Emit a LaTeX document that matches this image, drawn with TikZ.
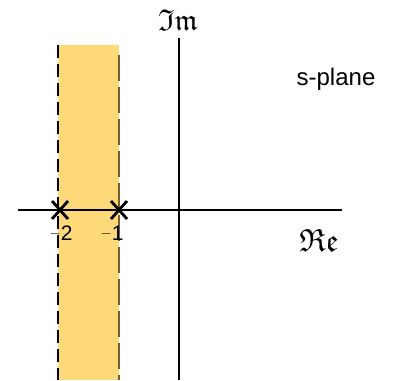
\documentclass[tikz,border=0pt]{standalone}
\usepackage{amssymb}
\usepackage{fontspec}
\setmainfont{Liberation Sans}
\usetikzlibrary{calc}
\definecolor{band}{RGB}{253,217,122}
\definecolor{bandedge}{RGB}{120,95,40}
\begin{document}
\begin{tikzpicture}[x=1pt,y=-1pt,
  axis/.style={line width=1.5pt,black},
  pole/.style={line width=2.8pt,black},
  lbl/.style={font=\fontsize{21}{23}\selectfont,inner sep=0pt}]
\useasboundingbox (0,0) rectangle (395,380);
\fill[band] (58,45) rectangle (119,380);
\draw[line width=2.8pt,dash pattern=on 13pt off 6pt] (58,45) -- (58,380);
\draw[line width=1.8pt,bandedge,dash pattern=on 26pt off 6pt] (119,55) -- (119,380);
\coordinate (xl) at (18,210);
\coordinate (xr) at (342,210);
\coordinate (yt) at (179,38);
\coordinate (yb) at (179,380);
\draw[axis] (xl) -- (xr);
\draw[axis] (yt) -- (yb);
\coordinate (p2) at (60,210);
\coordinate (p1) at (119,210);
\foreach \p in {p1,p2}{
  \draw[pole] ($(\p)+(-8,-9)$) -- ($(\p)+(8,9)$);
  \draw[pole] ($(\p)+(-8,9)$) -- ($(\p)+(8,-9)$);
}
\node[lbl] (l2) at (61,233) {\raisebox{3pt}{\fontsize{14}{16}\selectfont$-$}2};
\node[lbl] (l1) at (112,233) {\raisebox{3pt}{\fontsize{14}{16}\selectfont$-$}1};
\node[inner sep=0pt] (im) at (178,20) {\fontsize{30}{32}\selectfont$\mathfrak{Im}$};
\node[inner sep=0pt] (re) at (319,240) {\fontsize{32}{34}\selectfont$\mathfrak{Re}$};
\node[font=\fontsize{24}{26}\selectfont,inner sep=0pt] (sp) at (336,79) {s-plane};
\end{tikzpicture}
\end{document}
